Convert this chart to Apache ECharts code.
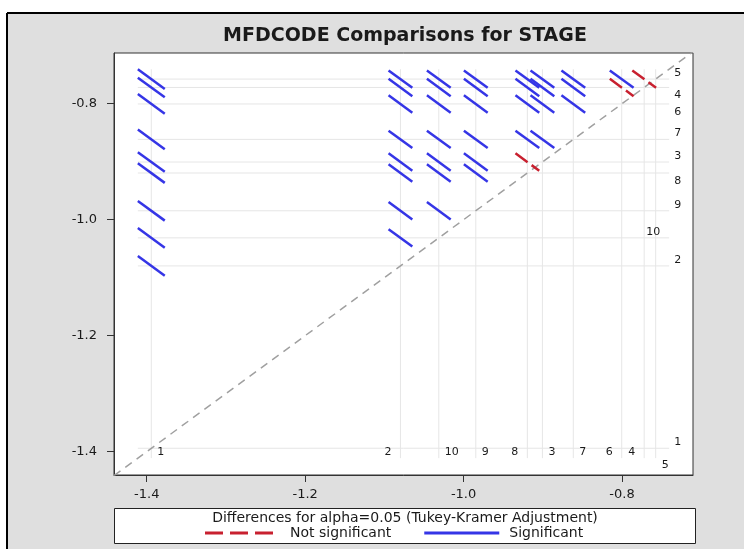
<!DOCTYPE html>
<html><head><meta charset="utf-8">
<script src="https://cdn.jsdelivr.net/npm/echarts@6/dist/echarts.min.js"></script>
<style>html,body{margin:0;padding:0;background:#fff}#c{width:744px;height:549px}</style>
</head><body><div id="c"></div>
<script>
// ---------------- data ----------------
const titleText = 'MFDCODE Comparisons for STAGE';
const legendCaption = 'Differences for alpha=0.05 (Tukey-Kramer Adjustment)';
const seriesNames = ['Not significant', 'Significant'];

const levels  = ['1', '2', '3', '4', '5', '6', '7', '8', '9', '10'];
const lsMeans = [-1.3942, -1.0797, -0.9005, -0.7720, -0.7575, -0.8004, -0.8615, -0.9195, -0.9846, -1.0313];

// pairwise comparisons: level A, level B, CI width of the difference, significant (1) or not (0)
const pairA = ['1','1','1','1','1','1','1','1','1',
               '2','2','2','2','2','2','2','2',
               '10','10','10','10','10','10','10',
               '9','9','9','9','9','9',
               '8','8','8','8','8',
               '3','3','3','3',
               '7','7','7',
               '6','6',
               '4'];
const pairB = ['2','10','9','8','3','7','6','4','5',
               '10','9','8','3','7','6','4','5',
               '9','8','3','7','6','4','5',
               '8','3','7','6','4','5',
               '3','7','6','4','5',
               '7','6','4','5',
               '6','4','5',
               '4','5',
               '5'];
const pairCIWidth = [0.034,0.034,0.034,0.034,0.034,0.034,0.034,0.034,0.034,
                     0.030,0.030,0.030,0.030,0.030,0.030,0.030,0.030,
                     0.030,0.030,0.030,0.030,0.030,0.030,0.030,
                     0.030,0.030,0.030,0.030,0.030,0.030,
                     0.030,0.030,0.030,0.030,0.030,
                     0.030,0.030,0.030,0.030,
                     0.030,0.030,0.030,
                     0.030,0.030,
                     0.030];
const pairSignificant = [1,1,1,1,1,1,1,1,1,
                         1,1,1,1,1,1,1,1,
                         1,1,1,1,1,1,1,
                         1,1,1,1,1,1,
                         0,1,1,1,1,
                         1,1,1,1,
                         1,1,1,
                         0,1,
                         0];

const xTickValues = [-1.4, -1.2, -1.0, -0.8];
const yTickValues = [-1.4, -1.2, -1.0, -0.8];
const xRange = [-1.4413, -0.7104];
const yRange = [-1.4403, -0.7125];

// label placement (layout only)
const rightLabelPlacement  = {'1':'above','2':'above','3':'above','4':'below','5':'above','6':'below','7':'above','8':'below','9':'above','10':'aboveLeft'};
const bottomLabelPlacement = {'1':'right','2':'left','3':'right','4':'left','5':'rightBelow','6':'left','7':'right','8':'left','9':'right','10':'right'};

// ---------------- build ----------------
const meanOf = l => lsMeans[levels.indexOf(l)];
const pairRows = pairA.map((a, k) => {
  const ma = meanOf(a), mb = meanOf(pairB[k]);
  return { value: [Math.min(ma, mb), Math.max(ma, mb), pairCIWidth[k]], sig: pairSignificant[k] };
});
let refMin = Infinity, refMax = -Infinity;
pairRows.forEach(r => {
  refMin = Math.min(refMin, r.value[0] - r.value[2] / 2);
  refMax = Math.max(refMax, r.value[1] + r.value[2] / 2);
});

const FONT = '"DejaVu Sans", "Liberation Sans", sans-serif';
const RED = '#c8202f', BLUE = '#3535e6';

function segmentRenderer(dash) {
  return function (params, api) {
    const x = api.value(0), y = api.value(1), w = api.value(2);
    const p1 = api.coord([x - w / 2, y + w / 2]);
    const p2 = api.coord([x + w / 2, y - w / 2]);
    return { type: 'line', shape: { x1: p1[0], y1: p1[1], x2: p2[0], y2: p2[1] },
      style: { stroke: api.visual('color'), lineWidth: 2.5, lineDash: dash, lineCap: 'butt' } };
  };
}

const chart = echarts.init(document.getElementById('c'), null, { renderer: 'canvas' });
chart.setOption({
  backgroundColor: '#dfdfdf',
  animation: false,
  title: { text: titleText, left: 405, top: 27, textAlign: 'center', padding: 0,
    textStyle: { fontFamily: FONT, fontWeight: 'bold', fontSize: 19, color: '#1a1a1a' } },
  grid: { left: 114, top: 53, width: 579, height: 422, show: true, backgroundColor: '#fff',
    borderColor: '#333', borderWidth: 1 },
  xAxis: { type: 'value', min: xRange[0], max: xRange[1],
    axisLine: { show: true, onZero: false, lineStyle: { color: '#333' } },
    axisTick: { show: true, length: 7, customValues: xTickValues, lineStyle: { color: '#333' } },
    axisLabel: { customValues: xTickValues, margin: 13, formatter: v => v.toFixed(1),
      fontFamily: FONT, fontSize: 13, color: '#1a1a1a' },
    splitLine: { show: false } },
  yAxis: { type: 'value', min: yRange[0], max: yRange[1],
    axisLine: { show: true, onZero: false, lineStyle: { color: '#333' } },
    axisTick: { show: true, length: 7, customValues: yTickValues, lineStyle: { color: '#333' } },
    axisLabel: { customValues: yTickValues, margin: 17, formatter: v => v.toFixed(1),
      fontFamily: FONT, fontSize: 13, color: '#1a1a1a' },
    splitLine: { show: false } },
  legend: {
    data: [
      { name: seriesNames[0], icon: 'path://M0,0H18V3H0Z M25,0H43V3H25Z M50,0H68V3H50Z M80,0H80V3H80Z' },
      { name: seriesNames[1], icon: 'path://M0,0H75V3H0Z M80,0H80V3H80Z' }
    ],
    left: 205, top: 526, padding: 0, itemWidth: 80, itemHeight: 3, itemGap: 33,
    selectedMode: false,
    textStyle: { fontFamily: FONT, fontSize: 14, color: '#1a1a1a' }
  },
  graphic: [
    { type: 'rect', silent: true, shape: { x: 0, y: 0, width: 744, height: 13 }, style: { fill: '#fff' } },
    { type: 'rect', silent: true, shape: { x: 0, y: 0, width: 7, height: 549 }, style: { fill: '#fff' } },
    { type: 'line', silent: true, shape: { x1: 7, y1: 13, x2: 744, y2: 13 }, style: { stroke: '#000', lineWidth: 2 } },
    { type: 'line', silent: true, shape: { x1: 7, y1: 13, x2: 7, y2: 549 }, style: { stroke: '#000', lineWidth: 2 } },
    { type: 'rect', silent: true, shape: { x: 114.5, y: 508.5, width: 581, height: 35 },
      style: { fill: '#fff', stroke: '#222', lineWidth: 1 } },
    { type: 'text', silent: true, x: 405, y: 518,
      style: { text: legendCaption, align: 'center', verticalAlign: 'middle', fill: '#1a1a1a',
        font: '14px ' + FONT } }
  ],
  series: [
    { // reference lines at each LS-mean
      type: 'custom', name: 'ref', silent: true, z: 1, clip: true,
      data: lsMeans.map(m => [m, m]),
      encode: { x: 0, y: 1 },
      renderItem: function (params, api) {
        const m = api.value(0);
        const h1 = api.coord([refMin, m]), h2 = api.coord([refMax, m]);
        const v1 = api.coord([m, refMin]), v2 = api.coord([m, refMax]);
        const st = { stroke: '#e6e6e6', lineWidth: 1 };
        return { type: 'group', children: [
          { type: 'line', shape: { x1: h1[0], y1: h1[1], x2: h2[0], y2: h2[1] }, style: st },
          { type: 'line', shape: { x1: v1[0], y1: v1[1], x2: v2[0], y2: v2[1] }, style: st }
        ] };
      }
    },
    { // diagonal y = x
      type: 'line', name: 'diag', silent: true, z: 2, symbol: 'none', clip: true,
      data: [[xRange[0], xRange[0]], [xRange[1], xRange[1]]],
      lineStyle: { color: '#a0a0a0', width: 1.5, type: [8, 6] }
    },
    {
      type: 'custom', name: seriesNames[1], z: 3, clip: true, itemStyle: { color: BLUE },
      data: pairRows.filter(r => r.sig === 1).map(r => r.value), encode: { x: 0, y: 1 },
      renderItem: segmentRenderer(null)
    },
    {
      type: 'custom', name: seriesNames[0], z: 3, clip: true, itemStyle: { color: RED },
      data: pairRows.filter(r => r.sig === 0).map(r => r.value), encode: { x: 0, y: 1 },
      renderItem: segmentRenderer([15, 5])
    },
    { // level labels
      type: 'custom', name: 'labels', silent: true, z: 4,
      data: lsMeans.map((m, i) => [m, m, i]), encode: { x: 0, y: 1 },
      renderItem: function (params, api) {
        const m = api.value(0), idx = api.value(2), lab = levels[idx];
        const r = api.coord([refMax, m]);
        const b = api.coord([m, refMin]);
        const rp = rightLabelPlacement[lab], bp = bottomLabelPlacement[lab];
        const font = '11px ' + FONT;
        const rt = { type: 'text', x: rp === 'aboveLeft' ? r[0] - 9 : r[0] + 5,
          y: rp === 'below' ? r[1] + 8 : r[1] - 6,
          style: { text: lab, font: font, fill: '#1a1a1a', align: rp === 'aboveLeft' ? 'right' : 'left', verticalAlign: 'middle' } };
        const bt = { type: 'text', x: bp === 'left' ? b[0] - 9 : b[0] + 6,
          y: bp === 'rightBelow' ? b[1] + 7.5 : b[1] - 6,
          style: { text: lab, font: font, fill: '#1a1a1a', align: bp === 'left' ? 'right' : 'left', verticalAlign: 'middle' } };
        return { type: 'group', children: [rt, bt] };
      }
    }
  ]
});
</script></body></html>
